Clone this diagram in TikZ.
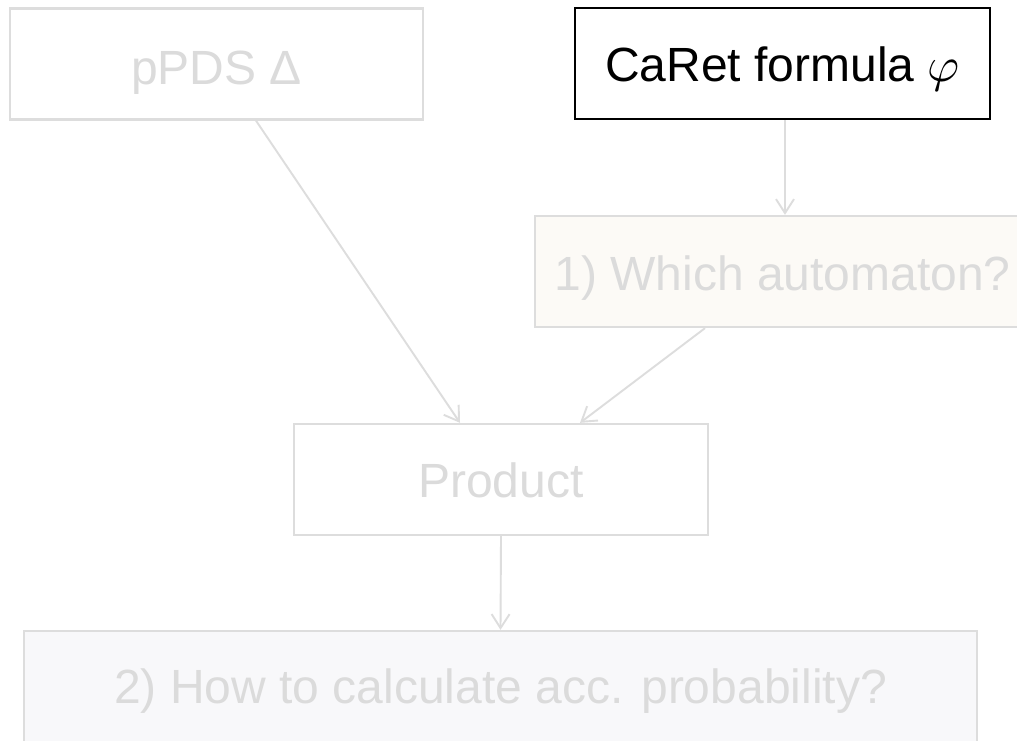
\documentclass[tikz,border=0pt]{standalone}
\usepackage{graphicx}
\usepackage{fontspec}
\setmainfont{Liberation Sans}
\usetikzlibrary{arrows.meta}
\definecolor{faded}{HTML}{DDDDDD}
\definecolor{fadedtext}{HTML}{DBDBDB}
\definecolor{creamfill}{HTML}{FCFAF6}
\definecolor{greyfill}{HTML}{F8F8FA}
% math phi enlarged to the size of the box text
\newcommand{\bigvarphi}{\scalebox{4.9}{\fontsize{10}{12}\selectfont$\varphi$}}
\tikzset{
  box/.style={draw=faded, line width=2.3pt, minimum height=111pt, inner sep=0pt,
    text height=34pt, text depth=0pt,
    text=fadedtext, font=\fontsize{48}{56}\selectfont},
  activebox/.style={box, draw=black, text=black},
  link/.style={draw=faded, line width=1.9pt, -{Straight Barb[length=14pt,width=18pt,line width=1.9pt]}},
}
\begin{document}
\begin{tikzpicture}[x=1pt,y=-1pt]
\useasboundingbox (0,0) rectangle (1017,741);
\clip (0,0) rectangle (1017,741);
\fill[white] (0,0) rectangle (1017,741);
\node[box, minimum width=413pt, text height=42pt] (pds) at (216.5,64) {pPDS Δ};
\node[activebox, minimum width=415pt, text height=36pt] (caret) at (782.5,63.5) {CaRet formula \bigvarphi};
\node[box, fill=creamfill, minimum width=495pt, text height=37pt] (auto) at (782.5,271.5) {1) Which automaton?};
\node[box, minimum width=414pt, text height=36pt] (prod) at (501,479.5) {Product};
\node[box, fill=greyfill, minimum width=953pt, text height=33pt] (calc) at (500.5,686.5) {2) How to calculate acc. probability?};
\draw[link] ([xshift=2.5pt]caret.south) -- ([xshift=2.5pt]caret.south |- auto.north);
\draw[link] ([xshift=39.5pt]pds.south) -- ([xshift=-41pt]prod.north);
\draw[link] ([xshift=-77.5pt]auto.south) -- ([xshift=79pt]prod.north);
\draw[link] (prod.south) -- (calc.north);
\end{tikzpicture}
\end{document}
